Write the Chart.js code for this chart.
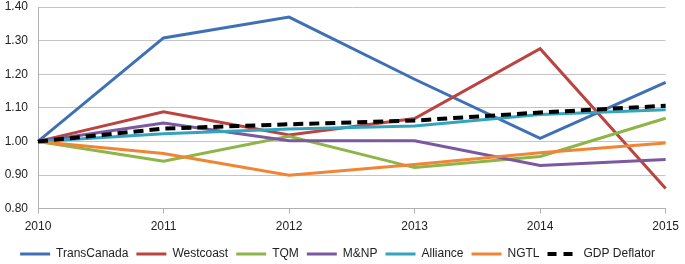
<!DOCTYPE html>
<html>
<head>
<meta charset="utf-8">
<script src="https://cdn.jsdelivr.net/npm/chart.js@4/dist/chart.umd.min.js"></script>
<style>
  html, body { margin: 0; padding: 0; background: #fff; }
  #wrap { width: 685px; height: 264px; position: relative; }
</style>
</head>
<body>
<div id="wrap"><canvas id="chart"></canvas></div>
<script>
// Pipeline cost index, 2010 = 1.00
const years = ['2010', '2011', '2012', '2013', '2014', '2015'];

const transCanada = [1.00, 1.308, 1.370, 1.185, 1.009, 1.176];
const westcoast   = [1.00, 1.088, 1.019, 1.068, 1.276, 0.860];
const tqm         = [1.00, 0.941, 1.015, 0.922, 0.955, 1.069];
const mnp         = [1.00, 1.055, 1.002, 1.002, 0.928, 0.946];
const alliance    = [1.00, 1.023, 1.037, 1.046, 1.080, 1.094];
const ngtl        = [1.00, 0.964, 0.899, 0.931, 0.966, 0.995];
const gdpDeflator = [1.00, 1.038, 1.051, 1.062, 1.086, 1.106];

const yTicks = { min: 0.8, max: 1.4, step: 0.1 };

const FONT = "'Liberation Sans', Arial, sans-serif";

function series(label, data, color, extra) {
    return Object.assign({
        label: label,
        data: data,
        borderColor: color,
        backgroundColor: color,
        borderWidth: 3,
        pointRadius: 0,
        tension: 0,
        fill: false
    }, extra || {});
}

const datasets = [
    series('TransCanada', transCanada, '#3f70b6'),
    series('Westcoast', westcoast, '#bb4340'),
    series('TQM', tqm, '#8db547'),
    series('M&NP', mnp, '#7b59a0'),
    series('Alliance', alliance, '#33a4bd'),
    series('NGTL', ngtl, '#f08535'),
    series('GDP Deflator', gdpDeflator, '#000000', { borderWidth: 4, borderDash: [10, 6] })
];

// later series drawn on top, like the original
datasets.forEach((ds, i) => { ds.order = datasets.length - i; });

const defaultLabels = Chart.defaults.plugins.legend.labels.generateLabels;

new Chart(document.getElementById('chart'), {
    type: 'line',
    data: { labels: years, datasets: datasets },
    options: {
        responsive: true,
        maintainAspectRatio: false,
        animation: false,
        layout: { autoPadding: false, padding: { top: 0, right: 10, left: 0, bottom: -6 } },
        plugins: {
            tooltip: { enabled: false },
            legend: {
                position: 'bottom',
                labels: {
                    usePointStyle: true,
                    pointStyle: 'line',
                    pointStyleWidth: 30,
                    boxHeight: 12,
                    padding: 8,
                    color: '#222',
                    font: { family: FONT, size: 12 },
                    sort: (a, b) => a.datasetIndex - b.datasetIndex,
                    generateLabels: chart => defaultLabels(chart).map(item => {
                        const ds = chart.data.datasets[item.datasetIndex];
                        if (ds.borderDash) item.lineDash = [9, 7];
                        return item;
                    })
                }
            }
        },
        scales: {
            x: {
                offset: false,
                grid: {
                    drawOnChartArea: false,
                    color: '#b0b0b0',
                    tickLength: 5
                },
                border: { color: '#b0b0b0' },
                ticks: {
                    color: '#222',
                    font: { family: FONT, size: 12 },
                    padding: 6,
                    maxRotation: 0
                }
            },
            y: {
                min: yTicks.min,
                max: yTicks.max,
                afterFit: scale => {
                    scale.width = 38;
                    scale.paddingTop = 7;
                    scale.paddingBottom = 0;
                },
                grid: {
                    color: '#c4c4c4',
                    drawTicks: false
                },
                border: { color: '#b0b0b0' },
                ticks: {
                    stepSize: yTicks.step,
                    color: '#222',
                    font: { family: FONT, size: 12 },
                    padding: 10,
                    callback: v => v.toFixed(2)
                }
            }
        }
    }
});
</script>
</body>
</html>
